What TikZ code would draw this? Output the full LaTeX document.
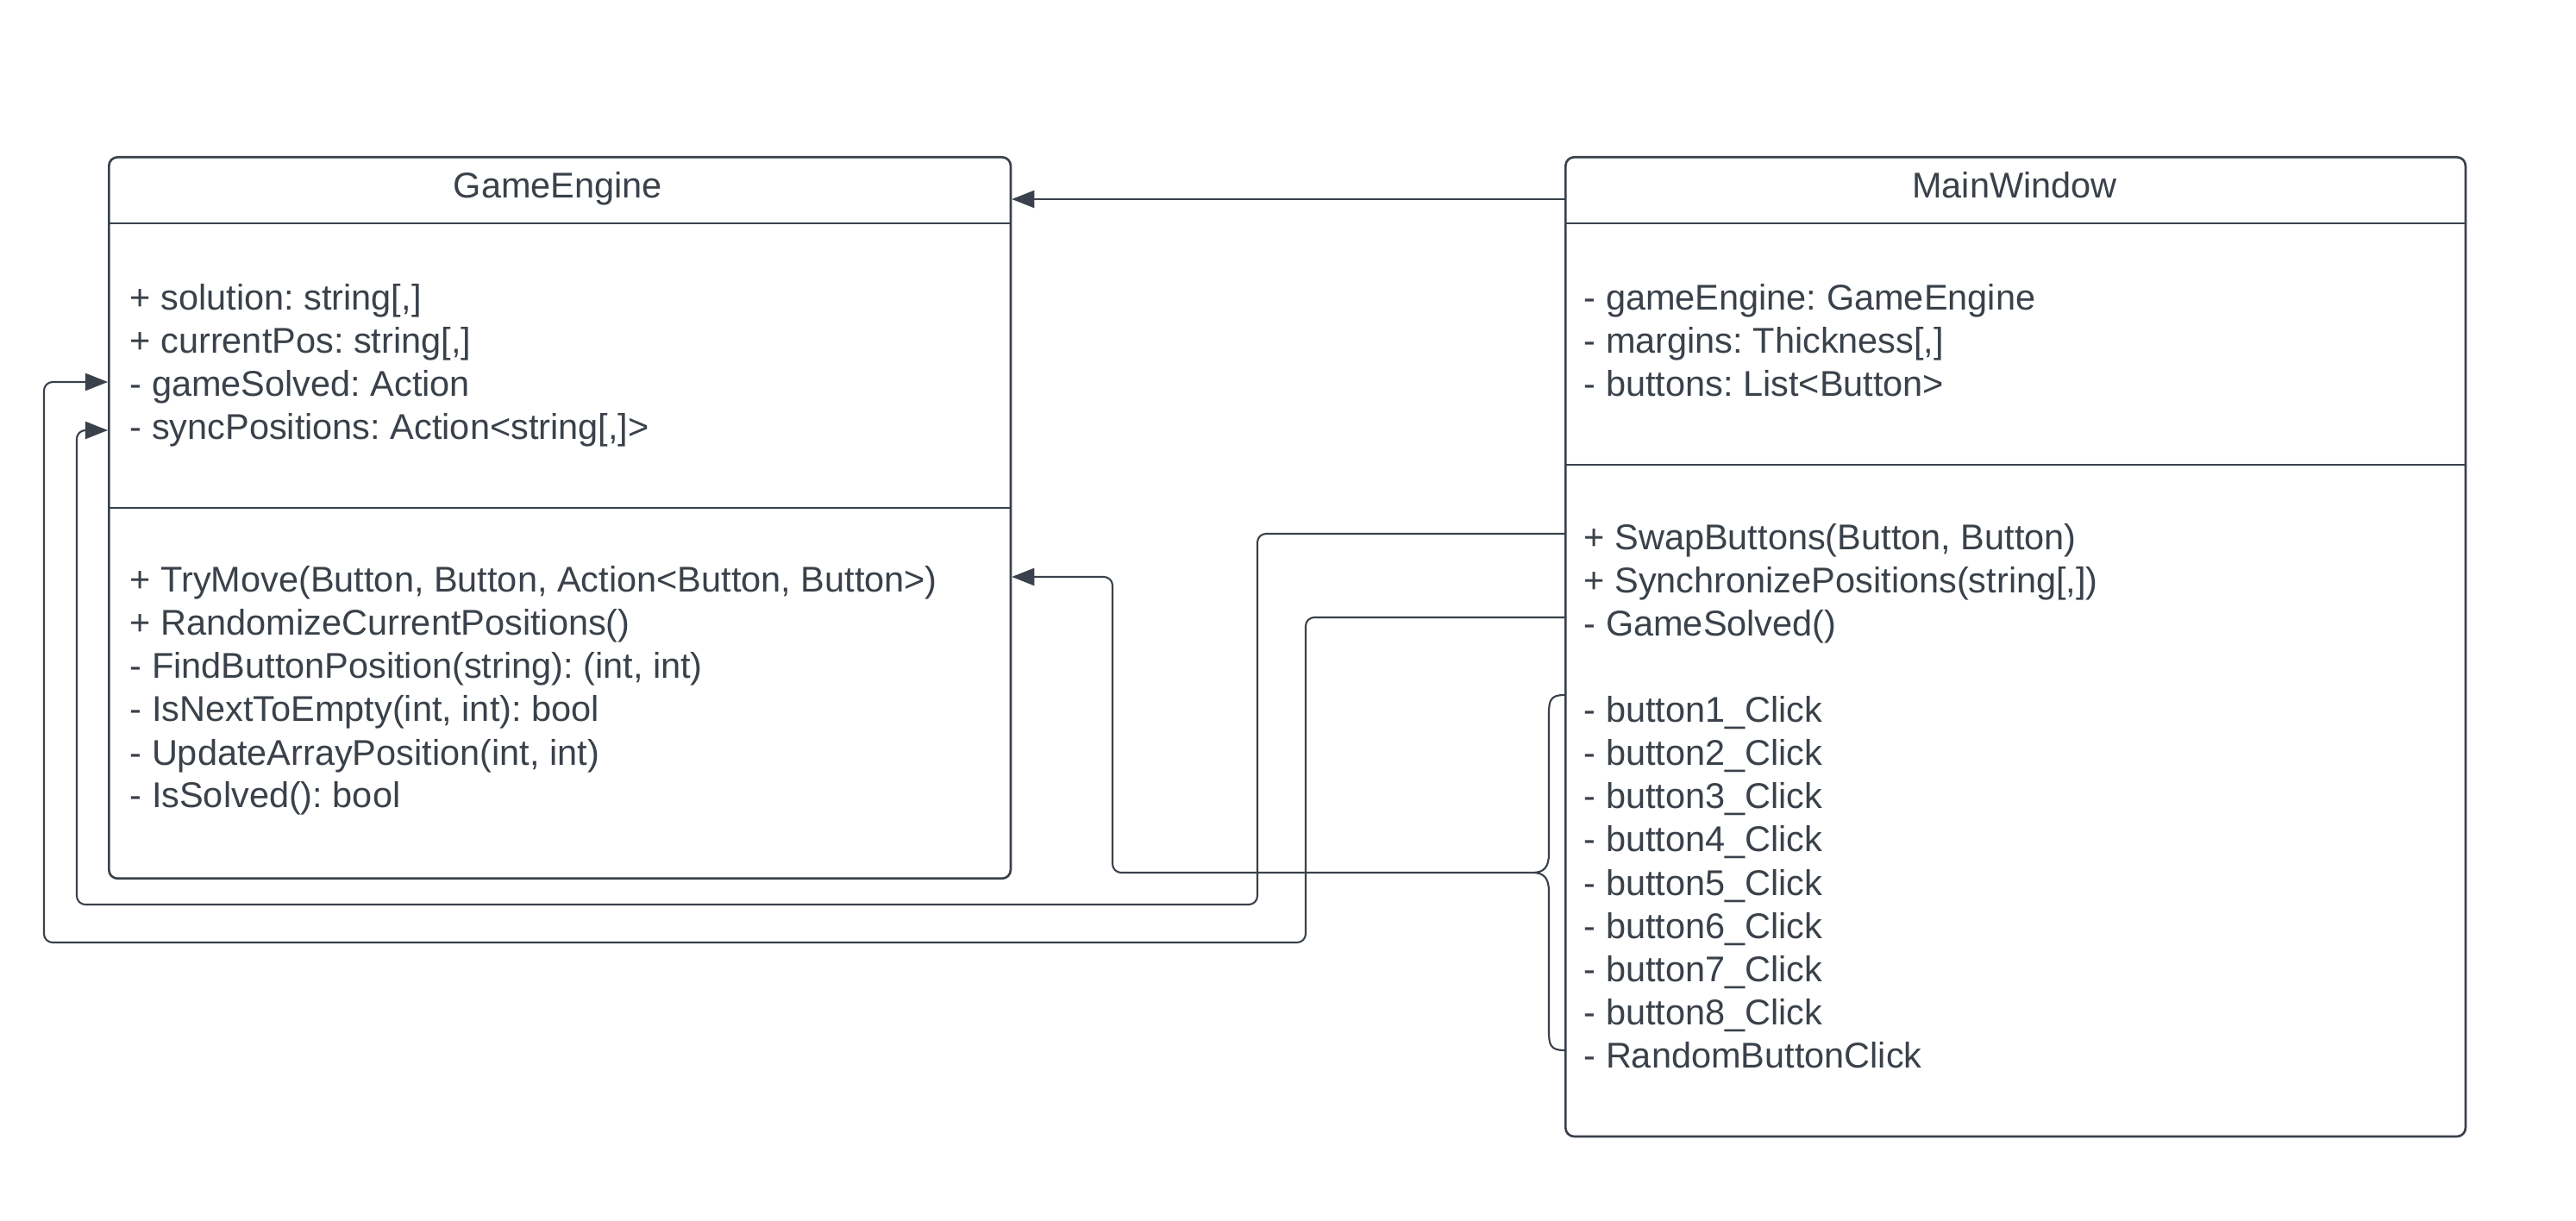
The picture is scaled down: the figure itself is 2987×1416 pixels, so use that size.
\documentclass[tikz,border=0pt]{standalone}
\usepackage{fontspec}
\setmainfont{Liberation Sans}
\usetikzlibrary{arrows.meta}
\usetikzlibrary{positioning}
\definecolor{ink}{HTML}{3A414A}
\newcommand{\umlfont}{\frenchspacing\fontsize{11.8pt}{14pt}\selectfont}
\tikzset{umlbox/.style = {draw = ink, line width = 0.75pt, rounded corners = 0.1cm, anchor = north west, inner sep = 0}}
\tikzset{divider/.style = {draw = ink, line width = 0.75pt}}
\tikzset{member/.style = {anchor = base west, inner sep = 0, text = ink, font = \umlfont}}
\tikzset{classname/.style = {anchor = base, inner sep = 0, text = ink, font = \umlfont}}
\tikzset{link/.style = {draw = ink, line width = 0.6pt, rounded corners = 0.1cm}}
\tikzset{assoc/.style = {-{Triangle[length = 0.26cm, width = 0.2cm]}}}

\begin{document}
\begin{tikzpicture}[x = 0.01cm, y = -0.01cm]
      \fill [white] (0, 0) rectangle (2987, 1416);

      % GameEngine
      \node [umlbox, minimum width = 10.45cm, minimum height = 8.36cm] (gebox) at (125, 181) {};
      \node [classname] (getitle) at (647, 230) {GameEngine};
      \draw [divider] (gebox.west |- 0, 259) -- (gebox.east |- 0, 259);
      \draw [divider] (gebox.west |- 0, 589) -- (gebox.east |- 0, 589);
      \foreach \txt [count = \i] in {{+ solution: string[,]}, {+ currentPos: string[,]},
          {- gameSolved: Action}, {- syncPositions: Action<string[,]>}} {
        \node [member] (geattr-\i) at (150, {310 + 50 * \i}) {\txt};
      }
      \foreach \txt [count = \i] in {{+ TryMove(Button, Button, Action<Button, Button>)},
          {+ RandomizeCurrentPositions()}, {- FindButtonPosition(string): (int, int)},
          {- IsNextToEmpty(int, int): bool}, {- UpdateArrayPosition(int, int)}, {- IsSolved(): bool}} {
        \node [member] (geop-\i) at (150, {637 + 50 * \i}) {\txt};
      }

      % MainWindow
      \node [umlbox, minimum width = 10.43cm, minimum height = 11.35cm] (mwbox) at (1814, 181) {};
      \node [classname] (mwtitle) at (2336, 230) {MainWindow};
      \draw [divider] (mwbox.west |- 0, 259) -- (mwbox.east |- 0, 259);
      \draw [divider] (mwbox.west |- 0, 539) -- (mwbox.east |- 0, 539);
      \foreach \txt [count = \i] in {{- gameEngine: GameEngine}, {- margins: Thickness[,]},
          {- buttons: List<Button>}} {
        \node [member] (mwattr-\i) at (1836, {310 + 50 * \i}) {\txt};
      }
      \foreach \txt [count = \i] in {{+ SwapButtons(Button, Button)},
          {+ SynchronizePositions(string[,])}, {- GameSolved()}} {
        \node [member] (mwop-\i) at (1836, {588 + 50 * \i}) {\txt};
      }
      \foreach \k [count = \i] in {1, ..., 8} {
        \node [member] (mwclick-\i) at (1836, {788 + 50 * \i}) {- button\k\_Click};
      }
      \node [member] (mwrandom) at (1836, 1238) {- RandomButtonClick};

      % brace over the click handlers
      \coordinate (brtip) at (1777, 1012);
      \draw [draw = ink, line width = 0.6pt] (mwbox.west |- 0, 806) .. controls (1798, 806) and (1796, 812) .. (1796, 828)
        -- (1796, 990) .. controls (1796, 1006) and (1790, 1012) .. (brtip)
        .. controls (1790, 1012) and (1796, 1018) .. (1796, 1034)
        -- (1796, 1196) .. controls (1796, 1212) and (1798, 1218) .. (mwbox.west |- 0, 1218);

      % associations
      \draw [link, assoc] (mwbox.west |- 0, 231) -- (gebox.east |- 0, 231);
      \draw [link, assoc] (brtip) -- (1290, 1012) -- (1290, 669) -- (gebox.east |- 0, 669);
      \draw [link, assoc] (mwbox.west |- 0, 619) -- (1458, 619) -- (1458, 1049) -- (89, 1049) -- (89, 499)
        -- (gebox.west |- 0, 499);
      \draw [link, assoc] (mwbox.west |- 0, 716) -- (1514, 716) -- (1514, 1093) -- (51, 1093) -- (51, 443)
        -- (gebox.west |- 0, 443);
    \end{tikzpicture}
\end{document}
